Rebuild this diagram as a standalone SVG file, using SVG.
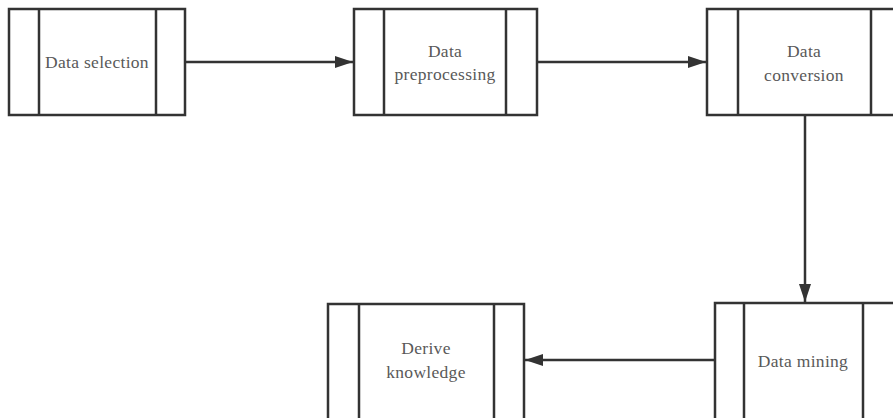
<svg xmlns="http://www.w3.org/2000/svg" width="893" height="418" viewBox="0 0 893 418">
<defs>
<marker id="ah" markerWidth="18" markerHeight="12" refX="18" refY="6" orient="auto" markerUnits="userSpaceOnUse">
<path d="M0,0 L18,6 L0,12 Z" fill="#333"/>
</marker>
<style>
.box{fill:#fff;stroke:#333;stroke-width:2.5}
.div{stroke:#333;stroke-width:2.5}
.t{font-family:"Liberation Serif",serif;font-size:17.5px;letter-spacing:0.3px;fill:#595959;text-anchor:middle}
.c{stroke:#333;stroke-width:2.5;fill:none;marker-end:url(#ah)}
</style>
</defs>
<rect width="893" height="418" fill="#fff"/>
<g id="n1">
<rect class="box" x="9" y="9" width="176" height="106"/>
<line class="div" x1="39" y1="9" x2="39" y2="115"/>
<line class="div" x1="156" y1="9" x2="156" y2="115"/>
<text class="t" x="97" y="68">Data selection</text>
</g>
<g id="n2">
<rect class="box" x="354" y="9" width="183" height="106"/>
<line class="div" x1="384" y1="9" x2="384" y2="115"/>
<line class="div" x1="506" y1="9" x2="506" y2="115"/>
<text class="t" x="445" y="57">Data</text>
<text class="t" x="445" y="80">preprocessing</text>
</g>
<g id="n3">
<rect class="box" x="707" y="9" width="195" height="106"/>
<line class="div" x1="738" y1="9" x2="738" y2="115"/>
<line class="div" x1="871" y1="9" x2="871" y2="115"/>
<text class="t" x="804" y="57">Data</text>
<text class="t" x="804" y="81">conversion</text>
</g>
<g id="n4">
<rect class="box" x="715" y="303" width="190" height="130"/>
<line class="div" x1="744" y1="303" x2="744" y2="430"/>
<line class="div" x1="863" y1="303" x2="863" y2="430"/>
<text class="t" x="803" y="367">Data mining</text>
</g>
<g id="n5">
<rect class="box" x="328" y="304" width="196" height="130"/>
<line class="div" x1="359" y1="304" x2="359" y2="430"/>
<line class="div" x1="494" y1="304" x2="494" y2="430"/>
<text class="t" x="426" y="354">Derive</text>
<text class="t" x="426" y="378">knowledge</text>
</g>
<g id="connectors">
<line class="c" x1="185" y1="62" x2="353" y2="62"/>
<line class="c" x1="537" y1="62" x2="706" y2="62"/>
<line class="c" x1="805" y1="115" x2="805" y2="302"/>
<line class="c" x1="715" y1="360" x2="525" y2="360"/>
</g>
</svg>
